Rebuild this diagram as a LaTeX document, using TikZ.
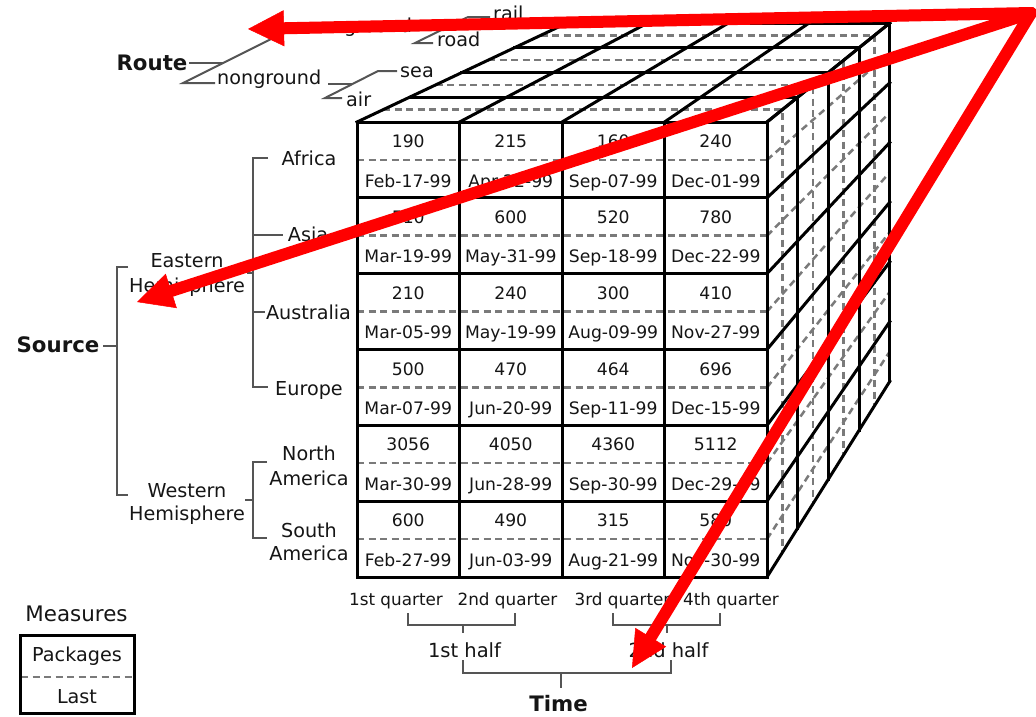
\documentclass[tikz,border=0pt]{standalone}
\usepackage{fontspec}
\setmainfont{DejaVu Sans}
\usetikzlibrary{arrows.meta,calc}

\definecolor{ink}{HTML}{151515}
\definecolor{twig}{HTML}{555555}
\definecolor{dashgray}{HTML}{7a7a7a}

\begin{document}
\begin{tikzpicture}[x=1pt,y=-1pt,
  edge/.style={draw=black,line width=3pt,line cap=rect},
  dashline/.style={draw=dashgray,line width=2.5pt,dash pattern=on 7pt off 4.5pt},
  twigline/.style={draw=twig,line width=2pt},
  cellv/.style={font=\fontsize{17.2}{20}\selectfont,text=ink,anchor=base,inner sep=0pt},
  lbl/.style={font=\fontsize{19.2}{22}\selectfont,text=ink,anchor=base,inner sep=0pt},
  lblw/.style={lbl,anchor=base west},
  head/.style={font=\bfseries\fontsize{21.3}{24}\selectfont,text=ink,anchor=base,inner sep=0pt},
  quarter/.style={font=\fontsize{16.8}{20}\selectfont,text=ink,anchor=base,inner sep=0pt},
  halfl/.style={font=\fontsize{19.5}{22}\selectfont,text=ink,anchor=base,inner sep=0pt},
  pointer/.style={draw=red,line width=12pt,line cap=round,
    -{Triangle[length=36pt,width=36pt,line width=0.5pt]}}]
\useasboundingbox (0,0) rectangle (1036,716);

% ---------- cube: perspective towards vp ----------
\coordinate (vp) at (1345,-344);
\foreach \i in {0,...,4}
  \foreach \j in {0,...,6}
    \coordinate (f\i\j) at ({357+102.5*\i},{122+75.8333*\j});
\foreach \j in {0,...,5} {
  \coordinate (l\j) at (357,{122+75.8333*\j+37.9});
  \coordinate (m\j) at (767,{122+75.8333*\j+37.9});
}

% dashed half-cell lines
\foreach \k in {0.5,1.5,2.5,3.5}
  \draw[dashline] ($(vp)!{1-0.0531*\k}!(f00)$) -- ($(vp)!{1-0.0531*\k}!(f40)$)
                  -- ($(vp)!{1-0.0531*\k}!(f46)$);
\foreach \j in {0,...,5} {
  \draw[dashline] (m\j) -- ($(vp)!0.7876!(m\j)$);
  \draw[dashline] (l\j) -- (m\j);
}

% solid cell boundaries
\foreach \k in {0,...,4}
  \draw[edge] ($(vp)!{1-0.0531*\k}!(f00)$) -- ($(vp)!{1-0.0531*\k}!(f40)$)
              -- ($(vp)!{1-0.0531*\k}!(f46)$);
\foreach \i in {0,...,4} {
  \draw[edge] (f\i0) -- ($(vp)!0.7876!(f\i0)$);
  \draw[edge] (f\i0) -- (f\i6);
}
\foreach \j in {0,...,6} {
  \draw[edge] (f4\j) -- ($(vp)!0.7876!(f4\j)$);
  \draw[edge] (f0\j) -- (f4\j);
}

% front face: packages count and last date
\foreach \j/\a/\b/\c/\d/\p/\q/\r/\s in {
  0/190/215/160/240/Feb-17-99/Apr-22-99/Sep-07-99/Dec-01-99,
  1/510/600/520/780/Mar-19-99/May-31-99/Sep-18-99/Dec-22-99,
  2/210/240/300/410/Mar-05-99/May-19-99/Aug-09-99/Nov-27-99,
  3/500/470/464/696/Mar-07-99/Jun-20-99/Sep-11-99/Dec-15-99,
  4/3056/4050/4360/5112/Mar-30-99/Jun-28-99/Sep-30-99/Dec-29-99,
  5/600/490/315/580/Feb-27-99/Jun-03-99/Aug-21-99/Nov-30-99} {
  \node[cellv] (v0\j) at (408.25,{122+75.8333*\j+25.5}) {\a};
  \node[cellv] (v1\j) at (510.75,{122+75.8333*\j+25.5}) {\b};
  \node[cellv] (v2\j) at (613.25,{122+75.8333*\j+25.5}) {\c};
  \node[cellv] (v3\j) at (715.75,{122+75.8333*\j+25.5}) {\d};
  \node[cellv] (d0\j) at (408.25,{122+75.8333*\j+65}) {\p};
  \node[cellv] (d1\j) at (510.75,{122+75.8333*\j+65}) {\q};
  \node[cellv] (d2\j) at (613.25,{122+75.8333*\j+65}) {\r};
  \node[cellv] (d3\j) at (715.75,{122+75.8333*\j+65}) {\s};
}

% ---------- Route hierarchy ----------
\node[head] (route) at (152,70) {Route};
\node[lblw] (ground) at (344,32) {ground};
\node[lblw] (nonground) at (217,84) {nonground};
\node[lblw] (rail) at (493,20) {rail};
\node[lblw] (road) at (437,46.5) {road};
\node[lblw] (sea) at (400,77) {sea};
\node[lblw] (air) at (346,106) {air};
\draw[twigline] (189,63) -- (223,63);
\draw[twigline] (215,83) -- (183,83) -- (287,31) -- (341,31);
\draw[twigline] (416,30) -- (441,30);
\draw[twigline] (433,43) -- (415,43) -- (468,17) -- (490,17);
\draw[twigline] (328,84) -- (352,84);
\draw[twigline] (342,98) -- (325,98) -- (378,71) -- (397,71);

% ---------- Source hierarchy ----------
\node[head] (source) at (58,352) {Source};
\node[lbl] (east1) at (187,267) {Eastern};
\node[lbl] (east2) at (187,292) {Hemisphere};
\node[lbl] (west1) at (187,497) {Western};
\node[lbl] (west2) at (187,520) {Hemisphere};
\node[lbl] (africa) at (309,165) {Africa};
\node[lbl] (asia) at (308,241) {Asia};
\node[lbl] (australia) at (308.5,319) {Australia};
\node[lbl] (europe) at (309,395) {Europe};
\node[lbl] (north1) at (309,460) {North};
\node[lbl] (north2) at (309,485) {America};
\node[lbl] (south1) at (309,537) {South};
\node[lbl] (south2) at (309,560) {America};
\draw[twigline] (103,346) -- (117,346);
\draw[twigline] (128,267) -- (117,267) -- (117,495) -- (128,495);
\draw[twigline] (247,273) -- (253,273);
\draw[twigline] (268,158) -- (253,158) -- (253,387) -- (268,387);
\draw[twigline] (253,235) -- (283,235);
\draw[twigline] (253,312) -- (265,312);
\draw[twigline] (245,500) -- (253,500);
\draw[twigline] (267,462) -- (253,462) -- (253,538) -- (267,538);

% ---------- Time hierarchy ----------
\node[quarter] (q1) at (396,605) {1st quarter};
\node[quarter] (q2) at (507.5,605) {2nd quarter};
\node[quarter] (q3) at (622.5,605) {3rd quarter};
\node[quarter] (q4) at (731,605) {4th quarter};
\node[halfl] (h1) at (464.5,657) {1st half};
\node[halfl] (h2) at (668.5,657) {2nd half};
\node[head] (time) at (558.5,711.5) {Time};
\draw[twigline] (408,613) -- (408,625) -- (515,625) -- (515,613);
\draw[twigline] (463,625) -- (463,633);
\draw[twigline] (613,613) -- (613,625) -- (720,625) -- (720,613);
\draw[twigline] (667,625) -- (667,633);
\draw[twigline] (463,660) -- (463,673) -- (671,673) -- (671,660);
\draw[twigline] (561,673) -- (561,688);

% ---------- measures legend ----------
\node[font=\fontsize{21.4}{24}\selectfont,text=ink,anchor=base,inner sep=0pt] (measures) at (76.5,621) {Measures};
\draw[dashline] (21,677) -- (133,677);
\draw[draw=black,line width=3pt] (20,635) rectangle (134,713);
\node[lbl] (packages) at (77,661) {Packages};
\node[lbl] (last) at (77,703) {Last};

% ---------- red pointers ----------
\coordinate (origin) at (1031,13);
\coordinate (tipa) at (248,29);
\coordinate (tipb) at (137,302);
\coordinate (tipc) at (632,668);
\draw[pointer] (origin) -- (tipa);
\draw[pointer] (origin) -- (tipb);
\draw[pointer] (origin) -- (tipc);
\end{tikzpicture}
\end{document}
